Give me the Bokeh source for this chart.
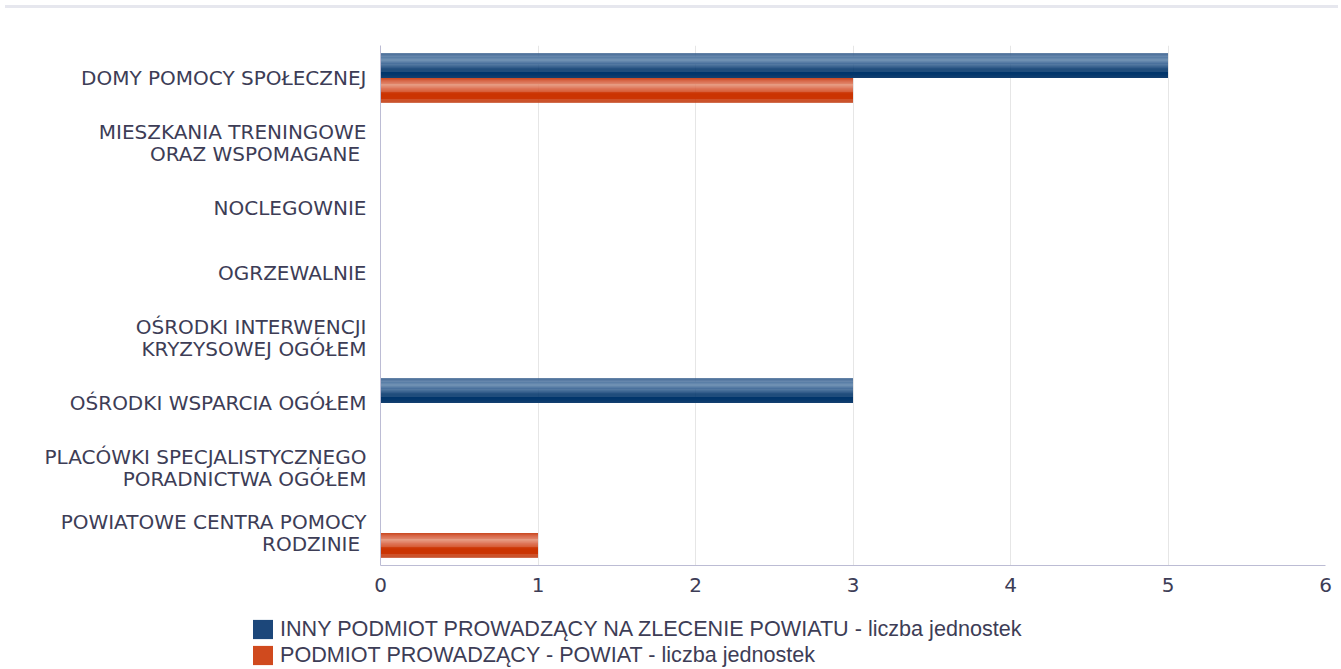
from bokeh.plotting import figure
from bokeh.models import (ColumnDataSource, FactorRange, Range1d, FixedTicker,
                          Legend, LegendItem, Div)
from bokeh.transform import dodge
from bokeh.layouts import column
from bokeh.embed import file_html
from bokeh.resources import INLINE

# ---- data ----
categories = [
    "DOMY POMOCY SPOŁECZNEJ",
    "MIESZKANIA TRENINGOWE\nORAZ WSPOMAGANE ",
    "NOCLEGOWNIE",
    "OGRZEWALNIE",
    "OŚRODKI INTERWENCJI\nKRYZYSOWEJ OGÓŁEM",
    "OŚRODKI WSPARCIA OGÓŁEM",
    "PLACÓWKI SPECJALISTYCZNEGO\nPORADNICTWA OGÓŁEM",
    "POWIATOWE CENTRA POMOCY\nRODZINIE ",
]
inny_podmiot = [5, 0, 0, 0, 0, 3, 0, 0]
powiat = [3, 0, 0, 0, 0, 0, 0, 1]
series_names = [
    "INNY PODMIOT PROWADZĄCY NA ZLECENIE POWIATU - liczba jednostek",
    "PODMIOT PROWADZĄCY - POWIAT - liczba jednostek",
]
x_ticks = [0, 1, 2, 3, 4, 5, 6]

# ---- styles ----
def hex2rgb(h):
    return tuple(int(h[i:i + 2], 16) for i in (1, 3, 5))

def gradient(stops, n):
    """stops: list of (pos 0..1 from top, hex)"""
    out = []
    for k in range(n):
        t = (k + 0.5) / n
        for j in range(len(stops) - 1):
            p0, c0 = stops[j]
            p1, c1 = stops[j + 1]
            if p0 <= t <= p1:
                f = (t - p0) / (p1 - p0) if p1 > p0 else 0
                a, b = hex2rgb(c0), hex2rgb(c1)
                out.append("#%02x%02x%02x" % tuple(round(a[i] + (b[i] - a[i]) * f) for i in range(3)))
                break
    return out

N = 26
blue_grad = gradient([(0, "#285283"), (0.12, "#4d74a0"), (0.28, "#7595b6"),
                      (0.45, "#3f6896"), (0.65, "#00336a"), (0.85, "#02366b"),
                      (1, "#143f70")], N)
orange_grad = gradient([(0, "#c94820"), (0.12, "#d8684a"), (0.28, "#e39075"),
                        (0.45, "#d95f3c"), (0.65, "#cb3300"), (0.85, "#cb3605"),
                        (1, "#bf3c12")], N)
TXT = "#3d3d56"
AXIS_FONT = "DejaVu Sans"

src = ColumnDataSource(dict(cat=categories, inny=inny_podmiot, powiat=powiat))

p = figure(y_range=FactorRange(*reversed(categories)), x_range=Range1d(0, 6),
           frame_width=945, frame_height=520, min_border_left=380,
           min_border_right=8, min_border_top=32, min_border_bottom=45,
           output_backend="svg", toolbar_location=None)
p.outline_line_color = None
p.background_fill_color = "white"
p.border_fill_color = "white"

H = 0.375
for field, centre, grad in (("inny", 0.19, blue_grad), ("powiat", -0.19, orange_grad)):
    for i, col in enumerate(grad):
        off = centre + H / 2 - (i + 0.5) * H / N
        p.hbar(y=dodge("cat", off, range=p.y_range), left=0, right=field,
               height=H / N * 1.25, fill_color=col, line_color=None, source=src)

# axes
p.xaxis.ticker = FixedTicker(ticks=x_ticks)
p.xaxis.major_tick_line_color = None
p.xaxis.minor_tick_line_color = None
p.xaxis.axis_line_color = "#bcbcd4"
p.xaxis.major_label_text_font = AXIS_FONT
p.xaxis.major_label_text_font_size = "20px"
p.xaxis.major_label_text_color = TXT
p.xaxis.major_label_standoff = 6

p.yaxis.major_tick_line_color = None
p.yaxis.minor_tick_line_color = None
p.yaxis.axis_line_color = "#bcbcd4"
p.yaxis.major_label_text_font = AXIS_FONT
p.yaxis.major_label_text_font_size = "20px"
p.yaxis.major_label_text_color = TXT
p.yaxis.major_label_text_line_height = 0.9
p.yaxis.major_label_standoff = 8

p.xgrid.grid_line_color = "#e6e6e6"
p.ygrid.grid_line_color = None

# ---- legend in its own strip below the chart ----
lg = figure(width=1333, height=58, min_border=0, x_range=Range1d(0, 1),
            y_range=Range1d(0, 1), x_axis_location=None, y_axis_location=None,
            output_backend="svg", toolbar_location=None)
lg.frame_align = False
lg.outline_line_color = None
lg.xgrid.grid_line_color = None
lg.ygrid.grid_line_color = None
swatch_colors = ["#1c477a", "#d04a1e"]
# swatch renderers: placed outside the visible range so only the legend glyph shows
sw = [lg.hbar(y=[5], left=[5], right=[6], height=0.1, fill_color=c, line_color=None)
      for c in swatch_colors]
legend = Legend(items=[LegendItem(label=series_names[k], renderers=[sw[k]], index=0)
                       for k in range(2)],
                location=(250, 0), orientation="vertical",
                glyph_width=25, glyph_height=24, label_height=23,
                label_standoff=5, spacing=0, padding=0, margin=0,
                border_line_color=None, background_fill_alpha=0,
                label_text_font="Liberation Sans", label_text_font_size="21.6px",
                label_text_color=TXT)
lg.add_layout(legend, "center")

sep = Div(text="", width=1333, height=3,
          styles={"background-color": "#e6e7ee"})

layout = column(sep, p, lg, spacing=0)
open("out.html", "w").write(file_html(layout, INLINE))
